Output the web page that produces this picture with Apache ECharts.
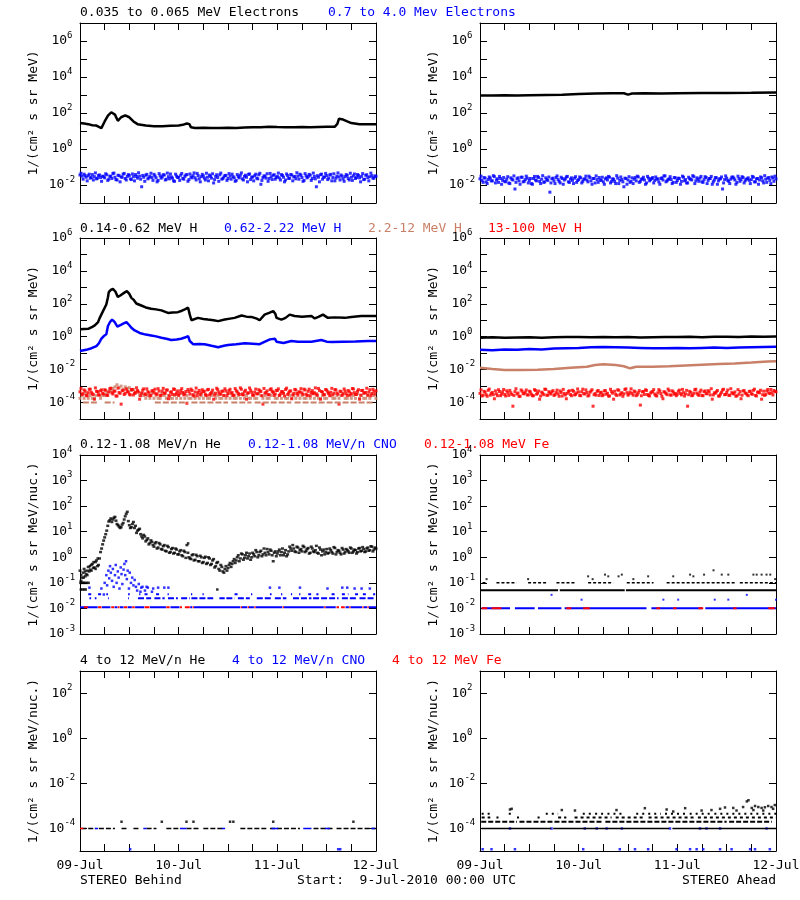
<!DOCTYPE html>
<html><head><meta charset="utf-8">
<script src="https://cdn.jsdelivr.net/npm/echarts@6/dist/echarts.min.js"></script>
<style>html,body{margin:0;padding:0;background:#fff}#c{width:800px;height:900px}</style>
</head><body><div id="c"></div>
<script>
// ---------- axis labels ----------
const dayHours = [0, 24, 48, 72];
const dayLabels = ['09-Jul', '10-Jul', '11-Jul', '12-Jul'];
const yTicks1 = [1e-3,1e-2,1e-1,1,1e1,1e2,1e3,1e4,1e5,1e6,1e7];
const yLabels1 = [1e-2,1,1e2,1e4,1e6];
const yTicks2 = [1e-5,1e-4,1e-3,1e-2,1e-1,1,1e1,1e2,1e3,1e4,1e5,1e6];
const yLabels2 = [1e-4,1e-2,1,1e2,1e4,1e6];
const yTicks3 = [1e-3,1e-2,1e-1,1,1e1,1e2,1e3,1e4];
const yLabels3 = [1e-3,1e-2,1e-1,1,1e1,1e2,1e3,1e4];
const yTicks4 = [1e-4,1e-2,1,1e2];
const yLabels4 = [1e-4,1e-2,1,1e2];

// ---------- Row 1: electrons (hours since 09-Jul 00:00) ----------
const eLowB = [[0,27.5],[1,26],[2,24],[3,21],[4,20],[5.2,14.5],[6,34],[6.8,71],[7.6,110],[8.5,81],[9.2,37],[10,58],[11,74],[12,58],[13,34],[14,24],[16,20],[18,18.6],[20,18.6],[22,19.5],[24,20.4],[25,22],[26,26],[26.6,24],[27,16],[28,14.5],[30,15],[32,14.8],[34,14.5],[36,15],[38,14.8],[40,15.5],[42,16],[44,16],[46,17.4],[48,16.6],[50,16.2],[52,16],[54,16.6],[56,16.2],[58,16.6],[60,17],[62,17.4],[62.6,25],[63,48],[64,43],[65,34],[66,27.5],[68,24],[70,24],[72,24]];
// half-hour samples (on the hour / half hour)
const eHighB = [
0.036,0.031,0.040,0.027,0.033,0.024,0.038,0.029,0.022,0.034,0.026,0.031,
0.025,0.037,0.021,0.030,0.043,0.027,0.019,0.033,0.028,0.040,0.023,0.030,
0.034,0.020,0.029,0.038,0.024,0.031,0.008,0.027,0.035,0.022,0.030,0.026,
0.039,0.025,0.018,0.032,0.028,0.036,0.021,0.029,0.041,0.024,0.016,0.031,
0.027,0.035,0.023,0.030,0.038,0.020,0.028,0.033,0.025,0.044,0.022,0.029,
0.032,0.019,0.027,0.036,0.024,0.013,0.030,0.026,0.037,0.021,0.028,0.034,
0.023,0.031,0.040,0.025,0.018,0.029,0.035,0.022,0.030,0.027,0.039,0.020,
0.028,0.033,0.024,0.037,0.011,0.026,0.031,0.042,0.023,0.029,0.035,0.021,
0.030,0.025,0.038,0.027,0.019,0.033,0.024,0.036,0.028,0.022,0.031,0.040,
0.026,0.018,0.032,0.029,0.035,0.023,0.030,0.008,0.027,0.037,0.021,0.028,
0.033,0.024,0.039,0.026,0.017,0.031,0.028,0.036,0.022,0.029,0.034,0.019,
0.027,0.032,0.023,0.038,0.025,0.030,0.020,0.035,0.026,0.029,0.033,0.024,
0.030];
// samples at quarter past / quarter to
const eHighB2 = [
0.045,0.021,0.033,0.017,0.040,0.026,0.019,0.047,0.024,0.036,0.016,0.029,
0.042,0.018,0.031,0.023,0.046,0.020,0.035,0.015,0.027,0.044,0.019,0.038,
0.022,0.041,0.017,0.030,0.048,0.021,0.034,0.016,0.039,0.025,0.045,0.018,
0.032,0.015,0.043,0.024,0.037,0.019,0.046,0.022,0.028,0.017,0.040,0.026,
0.018,0.044,0.021,0.036,0.016,0.041,0.025,0.047,0.019,0.033,0.015,0.039,
0.024,0.045,0.017,0.030,0.042,0.020,0.037,0.016,0.046,0.023,0.034,0.018,
0.043,0.021,0.029,0.016,0.038,0.025,0.047,0.019,0.035,0.015,0.041,0.027,
0.017,0.040,0.022,0.045,0.018,0.032,0.024,0.016,0.044,0.020,0.037,0.026,
0.046,0.019,0.034,0.015,0.041,0.023,0.038,0.017,0.030,0.048,0.021,0.035,
0.016,0.043,0.025,0.039,0.018,0.046,0.022,0.033,0.015,0.040,0.027,0.044,
0.020,0.036,0.017,0.042,0.024,0.047,0.019,0.031,0.016,0.038,0.023,0.045,
0.018,0.041,0.026,0.034,0.015,0.043,0.021,0.037,0.017,0.046,0.024,0.032];
const eLowA = [[0,950],[3,930],[6,960],[9,940],[12,970],[16,1000],[20,1020],[24,1150],[28,1200],[32,1250],[35,1250],[36,1050],[37,1200],[40,1250],[44,1230],[48,1260],[54,1280],[60,1300],[66,1330],[72,1380]];
const eHighA = [
0.022,0.018,0.026,0.015,0.020,0.024,0.017,0.029,0.019,0.014,0.023,0.018,
0.016,0.021,0.013,0.025,0.019,0.006,0.022,0.017,0.027,0.015,0.020,0.024,
0.018,0.012,0.023,0.019,0.030,0.016,0.021,0.014,0.025,0.018,0.004,0.022,
0.017,0.026,0.020,0.013,0.023,0.019,0.028,0.015,0.021,0.018,0.024,0.014,
0.020,0.025,0.016,0.022,0.019,0.031,0.017,0.023,0.013,0.020,0.026,0.018,
0.015,0.022,0.019,0.027,0.016,0.021,0.012,0.024,0.018,0.020,0.008,0.023,
0.019,0.014,0.025,0.021,0.017,0.028,0.016,0.022,0.019,0.013,0.024,0.020,
0.026,0.018,0.021,0.015,0.023,0.019,0.032,0.017,0.022,0.020,0.014,0.025,
0.018,0.023,0.016,0.027,0.020,0.013,0.022,0.019,0.029,0.017,0.021,0.024,
0.015,0.020,0.026,0.018,0.023,0.011,0.019,0.025,0.017,0.022,0.006,0.020,
0.024,0.016,0.021,0.028,0.019,0.014,0.023,0.020,0.026,0.017,0.022,0.018,
0.020,0.027,0.015,0.023,0.019,0.025,0.013,0.021,0.024,0.018,0.028,0.016,
0.022];
const eHighA2 = [
0.031,0.014,0.024,0.012,0.028,0.017,0.033,0.013,0.022,0.030,0.011,0.026,
0.015,0.029,0.012,0.021,0.032,0.014,0.025,0.011,0.027,0.016,0.031,0.013,
0.023,0.011,0.030,0.017,0.026,0.012,0.033,0.015,0.020,0.028,0.013,0.024,
0.012,0.032,0.016,0.027,0.011,0.022,0.030,0.014,0.025,0.012,0.029,0.018,
0.028,0.013,0.021,0.031,0.015,0.026,0.011,0.023,0.032,0.014,0.019,0.027,
0.011,0.025,0.030,0.013,0.022,0.016,0.033,0.012,0.028,0.015,0.024,0.011,
0.029,0.016,0.012,0.026,0.031,0.014,0.021,0.027,0.011,0.030,0.017,0.023,
0.013,0.028,0.022,0.011,0.025,0.032,0.015,0.020,0.029,0.012,0.026,0.014,
0.024,0.011,0.031,0.017,0.013,0.027,0.021,0.033,0.012,0.025,0.016,0.030,
0.014,0.029,0.012,0.023,0.030,0.015,0.026,0.011,0.022,0.028,0.013,0.032,
0.018,0.012,0.027,0.024,0.011,0.031,0.016,0.029,0.013,0.021,0.025,0.012,
0.030,0.015,0.022,0.011,0.028,0.017,0.033,0.014,0.026,0.012,0.024,0.031];

// ---------- Row 2: protons ----------
const h1B = [[0,2.8],[1,2.9],[2,3.0],[3,4.0],[3.6,4.9],[4.4,7.8],[4.8,14],[5.6,36],[6.4,91],[6.8,250],[7.0,510],[7.5,700],[8.0,810],[8.6,560],[9.2,260],[9.8,320],[10.5,430],[11.4,590],[12.0,400],[12.5,230],[13.0,180],[13.7,105],[14.9,79],[16,60],[17.3,50],[18.5,46],[19.8,40],[21.4,28],[22.5,30],[23.8,31],[24.8,38],[25.5,46],[26.3,58],[26.7,22],[27.1,10],[28.7,14],[30,12],[31.1,11],[32.5,10],[33.6,8.9],[35.2,11],[36.5,12.6],[37.6,14],[39.3,19.5],[40.5,16.6],[41.7,16],[43.0,12.6],[43.7,10],[44.9,22],[46,28],[47.0,36],[47.5,25],[47.8,14],[49.0,11],[50,14],[51.0,22],[52.2,18],[54,16.6],[56.3,18],[57.1,13],[58,16],[59.1,22],[60.3,14],[62,15],[64.4,14],[66,16],[68.4,18],[70,18],[72,18]];
const h2B = [[0,0.135],[1.5,0.16],[2.8,0.2],[4.0,0.27],[4.6,0.4],[5.2,0.76],[5.8,1.1],[6.4,1.4],[6.8,4.5],[7.3,7.9],[7.8,11],[8.4,7.9],[9.1,4.1],[9.8,5],[10.5,6.3],[11.3,7.8],[12.0,5],[12.5,3.5],[13.3,2.4],[14.5,1.7],[16,1.35],[17.3,1.2],[18.5,1.05],[19.8,0.87],[21,0.76],[22.2,0.63],[23.5,0.68],[24.6,0.76],[25.5,0.89],[26.3,1.1],[26.7,0.55],[27.5,0.35],[29,0.36],[30.3,0.35],[32,0.28],[33.6,0.23],[35,0.28],[36,0.31],[38,0.35],[40.1,0.4],[42,0.38],[43.7,0.35],[45,0.5],[46.2,0.69],[47.4,0.76],[47.8,0.5],[48.2,0.44],[49.5,0.42],[51.4,0.55],[53,0.5],[56.3,0.5],[58.7,0.63],[60,0.5],[61.2,0.48],[64,0.5],[67,0.52],[70,0.55],[72,0.55]];
const h3B = [
1.8e-4,2.7e-4,1.8e-4,3.6e-4,1.8e-4,2.7e-4,1.8e-4,1.8e-4,2.7e-4,4.5e-4,1.8e-4,2.7e-4,
2.7e-4,3.6e-4,4.5e-4,5.4e-4,7.2e-4,9.0e-4,1.2e-3,8.1e-4,1.0e-3,6.3e-4,9.0e-4,7.2e-4,
8.1e-4,5.4e-4,6.3e-4,3.6e-4,4.5e-4,2.7e-4,3.6e-4,2.7e-4,1.8e-4,2.7e-4,1.8e-4,3.6e-4,
1.8e-4,2.7e-4,1.8e-4,1.8e-4,3.6e-4,2.7e-4,1.8e-4,2.7e-4,1.8e-4,1.8e-4,2.7e-4,1.8e-4,
2.7e-4,1.8e-4,3.6e-4,1.8e-4,2.7e-4,1.8e-4,1.8e-4,2.7e-4,1.8e-4,3.6e-4,1.8e-4,2.7e-4,
1.8e-4,2.7e-4,1.8e-4,1.8e-4,2.7e-4,3.6e-4,1.8e-4,2.7e-4,1.8e-4,1.8e-4,2.7e-4,1.8e-4,
3.6e-4,1.8e-4,2.7e-4,1.8e-4,1.8e-4,2.7e-4,1.8e-4,3.6e-4,1.8e-4,2.7e-4,1.8e-4,1.8e-4,
2.7e-4,1.8e-4,1.8e-4,3.6e-4,2.7e-4,1.8e-4,2.7e-4,1.8e-4,1.8e-4,2.7e-4,4.5e-4,1.8e-4,
1.8e-4,2.7e-4,1.8e-4,3.6e-4,1.8e-4,1.8e-4,2.7e-4,1.8e-4,2.7e-4,1.8e-4,3.6e-4,1.8e-4,
2.7e-4,1.8e-4,1.8e-4,2.7e-4,1.8e-4,3.6e-4,1.8e-4,2.7e-4,1.8e-4,1.8e-4,2.7e-4,1.8e-4,
1.8e-4,3.6e-4,2.7e-4,1.8e-4,1.8e-4,2.7e-4,1.8e-4,2.7e-4,3.6e-4,1.8e-4,1.8e-4,2.7e-4,
1.8e-4,2.7e-4,1.8e-4,3.6e-4,1.8e-4,2.7e-4,1.8e-4,1.8e-4,2.7e-4,1.8e-4,3.6e-4,2.7e-4,
1.8e-4];
const h3BFloorSegs = [[0.7,4.4],[6,8.4],[18.2,26.3],[27.1,36],[36.8,41.7],[42.5,51.4],[52.2,71.7]];
const h3BFloor = 1e-4;
const h4B = [
4.5e-4,3.1e-4,5.8e-4,2.7e-4,4.0e-4,6.5e-4,3.4e-4,1.6e-4,4.8e-4,3.0e-4,5.2e-4,3.7e-4,
6.0e-4,2.8e-4,4.4e-4,7.5e-4,3.3e-4,5.0e-4,2.5e-4,4.1e-4,8.0e-5,5.6e-4,3.6e-4,4.7e-4,
3.2e-4,6.2e-4,2.9e-4,4.3e-4,5.4e-4,1.6e-4,3.8e-4,6.8e-4,3.0e-4,4.6e-4,2.6e-4,5.1e-4,
4.0e-4,3.4e-4,7.0e-4,2.7e-4,4.9e-4,3.6e-4,5.7e-4,1.7e-4,4.2e-4,3.1e-4,6.3e-4,3.8e-4,
2.8e-4,5.3e-4,4.1e-4,3.3e-4,9.0e-5,4.7e-4,6.6e-4,3.0e-4,4.4e-4,2.6e-4,5.5e-4,3.9e-4,
4.6e-4,3.2e-4,5.9e-4,2.9e-4,4.2e-4,1.6e-4,3.7e-4,6.1e-4,3.3e-4,4.8e-4,2.7e-4,5.0e-4,
3.5e-4,6.4e-4,4.0e-4,2.8e-4,5.2e-4,3.6e-4,7.8e-4,3.1e-4,4.5e-4,1.6e-4,3.9e-4,5.6e-4,
2.9e-4,4.3e-4,3.4e-4,6.0e-4,4.7e-4,8.0e-5,3.8e-4,5.1e-4,3.0e-4,6.9e-4,4.1e-4,3.3e-4,
5.4e-4,2.7e-4,4.6e-4,3.7e-4,6.2e-4,3.1e-4,4.9e-4,1.7e-4,3.6e-4,5.8e-4,2.8e-4,4.4e-4,
3.9e-4,6.5e-4,3.2e-4,4.8e-4,2.6e-4,5.3e-4,4.0e-4,3.4e-4,7.2e-4,1.6e-4,4.3e-4,3.0e-4,
5.7e-4,3.5e-4,4.2e-4,2.9e-4,6.1e-4,3.8e-4,8.0e-5,4.6e-4,3.3e-4,5.0e-4,2.7e-4,4.5e-4,
3.6e-4,6.7e-4,3.1e-4,4.9e-4,1.6e-4,5.4e-4,3.7e-4,4.1e-4,2.8e-4,6.0e-4,3.4e-4,4.8e-4,
5.2e-4];
const h4B2 = [
7.2e-4,3.5e-4,5.0e-4,2.6e-4,6.4e-4,4.2e-4,3.0e-4,7.8e-4,4.6e-4,2.8e-4,5.9e-4,3.3e-4,
5.5e-4,2.7e-4,6.9e-4,3.9e-4,4.8e-4,2.5e-4,7.5e-4,3.6e-4,5.2e-4,3.1e-4,6.6e-4,4.4e-4,
2.9e-4,6.1e-4,3.7e-4,7.9e-4,4.3e-4,2.6e-4,5.6e-4,3.4e-4,6.8e-4,4.0e-4,2.7e-4,5.3e-4,
6.5e-4,3.2e-4,4.9e-4,2.8e-4,7.3e-4,3.8e-4,5.8e-4,2.6e-4,4.5e-4,6.7e-4,3.1e-4,5.1e-4,
3.6e-4,7.0e-4,2.9e-4,4.7e-4,6.2e-4,3.3e-4,5.4e-4,2.5e-4,7.6e-4,4.1e-4,3.0e-4,6.0e-4,
4.9e-4,2.7e-4,6.3e-4,3.5e-4,5.7e-4,2.8e-4,7.4e-4,4.3e-4,3.2e-4,5.0e-4,6.9e-4,2.6e-4,
5.3e-4,3.8e-4,2.7e-4,7.1e-4,4.5e-4,3.1e-4,6.4e-4,2.9e-4,5.6e-4,3.7e-4,7.7e-4,4.2e-4,
2.8e-4,6.6e-4,3.4e-4,5.2e-4,2.6e-4,7.2e-4,4.0e-4,3.0e-4,6.1e-4,4.8e-4,2.7e-4,5.5e-4,
6.8e-4,3.3e-4,4.6e-4,2.5e-4,7.5e-4,3.9e-4,5.1e-4,2.9e-4,6.3e-4,3.6e-4,4.4e-4,7.0e-4,
3.1e-4,5.8e-4,2.7e-4,6.5e-4,4.1e-4,3.4e-4,7.8e-4,2.8e-4,5.3e-4,4.7e-4,3.0e-4,6.2e-4,
4.5e-4,2.6e-4,7.3e-4,3.7e-4,5.9e-4,3.2e-4,4.9e-4,2.7e-4,6.7e-4,3.5e-4,5.4e-4,2.9e-4,
7.1e-4,4.0e-4,3.1e-4,6.0e-4,2.8e-4,5.5e-4,3.8e-4,7.4e-4,4.3e-4,2.6e-4,6.4e-4,3.3e-4];
const h1A = [[0,0.88],[3,0.92],[6,0.86],[9,0.9],[12,0.93],[15,0.88],[18,0.92],[21,0.95],[24,0.97],[27,0.93],[30,0.96],[33,0.92],[36,0.95],[39,0.9],[42,0.94],[45,0.97],[48,0.95],[51,0.98],[54,0.94],[57,0.99],[60,1.0],[63,0.97],[66,1.02],[69,1.0],[72,1.05]];
const h2A = [[0,0.16],[3,0.15],[6,0.17],[9,0.16],[12,0.18],[15,0.17],[18,0.19],[21,0.2],[24,0.21],[27,0.23],[30,0.24],[33,0.23],[36,0.22],[39,0.21],[42,0.2],[45,0.2],[48,0.21],[51,0.2],[54,0.21],[57,0.22],[60,0.21],[63,0.22],[66,0.23],[69,0.24],[72,0.25]];
const h3A = [[0,0.013],[3,0.011],[6,0.0095],[10,0.0095],[14,0.010],[18,0.011],[22,0.013],[26,0.015],[28,0.019],[30,0.021],[33,0.019],[35,0.016],[36.5,0.012],[38,0.015],[42,0.015],[46,0.016],[50,0.018],[54,0.020],[58,0.022],[62,0.024],[66,0.027],[70,0.031],[72,0.032]];
const h4A = [
3.6e-4,2.5e-4,4.8e-4,3.0e-4,5.5e-4,2.8e-4,4.1e-4,1.7e-4,3.4e-4,6.0e-4,2.6e-4,4.4e-4,
3.1e-4,5.2e-4,2.7e-4,3.9e-4,6.0e-5,4.6e-4,3.3e-4,2.4e-4,5.8e-4,3.5e-4,4.2e-4,2.9e-4,
4.9e-4,3.2e-4,2.6e-4,5.4e-4,3.7e-4,1.6e-4,4.3e-4,3.0e-4,6.3e-4,2.8e-4,3.8e-4,4.5e-4,
2.7e-4,4.0e-4,3.4e-4,5.1e-4,2.5e-4,3.6e-4,1.7e-4,4.7e-4,3.1e-4,5.6e-4,2.9e-4,3.9e-4,
4.4e-4,2.6e-4,6.5e-4,3.3e-4,4.1e-4,2.8e-4,5.0e-4,6.0e-5,3.5e-4,4.8e-4,2.7e-4,4.2e-4,
3.0e-4,5.3e-4,3.7e-4,2.5e-4,4.6e-4,1.6e-4,3.2e-4,5.9e-4,2.9e-4,4.0e-4,3.4e-4,6.8e-4,
2.8e-4,4.3e-4,3.6e-4,5.0e-4,2.6e-4,3.9e-4,7.0e-5,4.5e-4,3.1e-4,5.5e-4,2.7e-4,3.8e-4,
4.7e-4,3.3e-4,2.5e-4,6.1e-4,3.5e-4,1.7e-4,4.2e-4,3.0e-4,5.2e-4,2.8e-4,4.4e-4,3.6e-4,
3.2e-4,5.7e-4,2.9e-4,4.0e-4,3.4e-4,6.0e-5,4.8e-4,2.6e-4,3.7e-4,6.4e-4,3.1e-4,4.3e-4,
2.7e-4,4.6e-4,3.5e-4,5.3e-4,2.9e-4,1.6e-4,3.9e-4,4.5e-4,2.5e-4,3.3e-4,5.8e-4,3.0e-4,
4.1e-4,2.8e-4,6.9e-4,3.6e-4,4.4e-4,2.6e-4,3.2e-4,1.7e-4,5.1e-4,3.8e-4,2.9e-4,4.7e-4,
3.4e-4,5.5e-4,2.7e-4,4.2e-4,3.9e-4,1.6e-4,4.9e-4,3.1e-4,6.2e-4,3.5e-4,4.0e-4,5.4e-4,
4.6e-4];
const h4A2 = [
5.9e-4,2.8e-4,4.3e-4,2.4e-4,6.6e-4,3.6e-4,3.0e-4,5.1e-4,2.6e-4,4.7e-4,3.3e-4,6.2e-4,
2.5e-4,4.0e-4,5.5e-4,3.1e-4,2.7e-4,6.9e-4,3.8e-4,2.4e-4,4.9e-4,3.4e-4,5.8e-4,2.9e-4,
4.4e-4,2.6e-4,6.1e-4,3.2e-4,5.0e-4,2.5e-4,3.7e-4,6.5e-4,2.8e-4,4.6e-4,3.3e-4,5.3e-4,
3.0e-4,5.7e-4,2.4e-4,4.1e-4,6.3e-4,2.9e-4,3.6e-4,5.2e-4,2.6e-4,4.8e-4,3.1e-4,6.7e-4,
2.7e-4,4.5e-4,3.5e-4,5.9e-4,2.5e-4,4.2e-4,6.0e-4,3.0e-4,2.8e-4,5.4e-4,3.9e-4,2.6e-4,
5.1e-4,3.2e-4,2.5e-4,6.4e-4,3.7e-4,4.9e-4,2.7e-4,5.6e-4,3.4e-4,2.4e-4,6.2e-4,4.0e-4,
3.3e-4,6.8e-4,2.8e-4,4.4e-4,3.0e-4,5.3e-4,2.6e-4,4.7e-4,5.9e-4,3.1e-4,2.5e-4,4.3e-4,
6.1e-4,2.7e-4,3.9e-4,5.0e-4,2.4e-4,4.6e-4,3.5e-4,6.6e-4,2.9e-4,5.2e-4,3.2e-4,2.6e-4,
4.8e-4,3.6e-4,6.3e-4,2.5e-4,5.5e-4,3.0e-4,4.1e-4,2.8e-4,6.0e-4,3.8e-4,2.7e-4,5.7e-4,
2.6e-4,5.1e-4,3.4e-4,4.5e-4,6.9e-4,2.9e-4,3.7e-4,5.4e-4,2.5e-4,4.2e-4,6.4e-4,3.1e-4,
5.8e-4,2.7e-4,4.0e-4,3.3e-4,2.4e-4,6.1e-4,4.7e-4,2.8e-4,5.3e-4,3.5e-4,2.6e-4,4.9e-4,
3.2e-4,6.5e-4,2.5e-4,4.4e-4,5.6e-4,3.0e-4,2.7e-4,5.0e-4,3.9e-4,6.2e-4,2.9e-4,4.6e-4];

// ---------- Row 3: 0.12-1.08 MeV/n ions ----------
const heLoB = [
0.30,0.16,0.35,0.22,0.42,0.33,0.55,0.40,0.75,0.50,1.6,3.2,
6.0,11,25,33,30,38,20,16,15,22,40,60,
18,15,24,17,11,13,6.5,7.5,4.2,5.5,3.6,4.0,
2.6,3.9,2.4,3.2,2.0,3.0,1.7,2.5,1.6,2.3,1.5,2.0,
1.3,1.9,1.1,1.6,3.0,1.0,0.85,1.3,0.80,1.1,0.70,1.0,
0.65,1.05,0.60,0.90,0.55,0.85,0.45,0.65,0.30,0.42,0.25,0.45,
0.38,0.60,0.55,0.85,0.75,1.2,0.90,1.3,0.95,1.5,1.1,0.8,
1.5,1.1,1.6,1.2,1.8,1.3,1.5,2.1,1.3,1.8,0.7,1.7,
1.4,2.0,1.6,1.2,1.9,1.3,2.6,1.8,2.2,1.6,2.4,1.9,
1.7,2.5,1.8,2.3,1.5,2.2,1.6,2.8,1.4,2.0,1.7,1.3,
2.1,1.5,1.9,1.4,2.3,1.6,1.8,1.3,2.0,1.6,1.9,1.5,
2.2,1.7,1.9,1.6,2.3,1.8,2.1,1.7,2.4,1.9,2.6,2.0,
2.2];
const heLoB2 = [
0.12,0.25,0.18,0.30,0.28,0.50,0.38,0.65,0.45,0.90,2.2,4.5,
8.0,17,28,24,35,27,18,14,19,30,50,26,
14,20,14,9.0,12,8.0,5.5,6.5,4.8,3.2,4.6,3.0,
3.5,2.2,3.6,2.1,2.7,1.8,2.8,1.5,2.1,1.4,2.2,1.3,
1.7,1.2,1.8,0.95,1.5,0.90,1.2,0.75,1.25,0.70,1.15,0.60,
0.95,0.55,1.0,0.50,0.75,0.40,0.60,0.35,0.50,0.28,0.35,0.30,
0.50,0.42,0.70,0.60,1.0,0.70,1.4,0.80,1.2,0.90,1.4,1.0,
1.3,1.9,1.0,1.6,1.1,2.2,1.2,1.6,2.0,1.2,1.5,1.1,
1.7,1.2,2.2,1.5,1.1,1.7,2.2,3.0,1.7,2.6,1.5,2.1,
2.8,1.6,2.1,1.4,2.6,1.7,1.9,1.5,2.4,1.2,2.0,1.6,
1.4,2.2,1.6,2.5,1.3,1.9,1.5,2.3,1.4,2.1,1.7,2.4,
1.5,2.0,1.4,2.2,1.7,2.5,1.6,2.2,1.8,2.7,1.7,2.4];
const heLoBExtra = [[0.1,0.1],[0.4,0.1],[0.7,0.1],[1.0,0.1],[1.3,0.1],[1.7,0.1],[2.1,0.1],[0.2,0.055],[0.6,0.055],[1.0,0.055],[1.4,0.055],[0.3,0.2],[0.9,0.16],[1.2,0.28],[1.8,0.2],[2.4,0.45],[2.8,0.3],[3.3,0.65],[3.8,0.35],[4.3,0.9],[33.4,0.055],[26.3,3.5]];
const cnoLoB = [[2.3,0.065],[5.2,0.06],[5.8,0.035],[6.0,0.1],[6.4,0.2],[6.6,0.08],[6.9,0.3],[7.1,0.15],[7.3,0.45],[7.5,0.25],[7.8,0.12],[8.0,0.35],[8.2,0.07],[8.5,0.2],[8.7,0.5],[8.9,0.1],[9.2,0.28],[9.4,0.16],[9.6,0.06],[9.9,0.4],[10.1,0.22],[10.3,0.09],[10.6,0.33],[10.8,0.55],[11.0,0.2],[11.2,0.7],[11.4,0.14],[11.6,0.3],[11.9,0.06],[12.1,0.25],[12.4,0.1],[12.7,0.16],[13.0,0.08],[13.3,0.13],[13.6,0.07],[13.9,0.05],[14.3,0.09],[14.7,0.045],[14.9,0.065],[15.2,0.07],[15.8,0.05],[16.2,0.07],[16.5,0.065],[17.5,0.045],[17.8,0.06],[19,0.065],[20.5,0.065],[21.5,0.065],[46.2,0.065],[48.5,0.065],[53.5,0.065],[60.2,0.06],[63.8,0.065],[65.0,0.065],[66.8,0.06],[68.5,0.06],[70.5,0.06]];
const cnoLoBLevels = [0.011, 0.025, 0.036];
const cnoLoBSegs1 = [[0,4.3],[5.3,7.4],[8.4,9.1],[9.7,10.6],[11.6,12.6],[13.4,15.6],[17,20.9],[22,24.2],[26.8,27.3],[27.7,39],[39.4,40.7],[41.1,42.3],[42.7,49.2],[49.6,59.3],[59.7,62.2],[64.6,65.4],[65.8,68.6],[69,69.8],[70.2,72]];
const cnoLoBSegs2 = [[2.3,2.7],[3.6,4.0],[6.8,7.0],[11.7,11.9],[14.1,15.7],[16.1,17.3],[18.1,20.6],[21.4,23.8],[24.6,26.7],[27.1,32.4],[33.9,35.2],[35.6,37.6],[38.4,41.3],[43,46.6],[47.4,50.2],[51.8,56.3],[56.7,62.9],[63.7,67.5],[68,71.8]];
const cnoLoBSegs3 = [[2.0,3.2],[4.4,5.2],[6.4,6.8],[11.7,12.1],[14.4,14.7],[15.7,16.5],[18.5,19.3],[21.3,21.6],[27,27.3],[29.8,30.1],[37.6,38.4],[41.6,41.9],[46.2,46.6],[48.9,49.2],[51.3,51.6],[53.3,53.6],[55.5,56.3],[57.5,58],[61.2,62],[63.7,65.3],[66.9,67.7],[68.8,70],[71.3,71.8]];
const feLoBLevel = 0.011;
const feLoBSegs = [[1.0,1.9],[4.4,5.2],[7.6,8.3],[9.2,9.6],[10.7,11.5],[12.7,13.3],[15.7,16.9],[21,21.8],[24.3,24.8],[25.5,26.7],[27.4,27.7],[39.1,39.4],[40.8,41.1],[42.4,42.7],[49.3,49.6],[59.4,59.7],[62.4,63],[63.5,64.4],[65.5,65.8],[68.7,69],[69.9,70.2]];

const heLoALevels = [0.051, 0.1];
const heLoASegs1 = [[0,19],[19.4,35.2],[35.5,72]];
const heLoASegs2 = [[0.6,1.5],[4,8.9],[11.7,16.2],[18.6,23.4],[26.3,32.4],[35.7,42.2],[45.4,62.4],[63.2,72]];
const heLoAUp = [[1.6,0.14],[11.7,0.14],[26.3,0.18],[27.4,0.14],[30.4,0.21],[31.2,0.18],[33.7,0.18],[34.5,0.21],[37.3,0.14],[40.9,0.18],[47,0.18],[51.1,0.21],[51.9,0.18],[54.5,0.21],[56.8,0.31],[58.8,0.21],[60.4,0.21],[66.5,0.21],[67.3,0.21],[68.5,0.21],[69.7,0.21],[70.6,0.21],[71.8,0.14]];
const cnoLoALevel = 0.0102;
const cnoLoASegs = [[0.4,7.3],[8.5,13.3],[14.1,19.8],[20.6,40.5],[41.7,54],[54.8,72]];
const cnoLoAUp = [[17.4,0.034],[24.7,0.022],[44.6,0.022],[48.2,0.022],[57.1,0.022],[60.4,0.022],[64.9,0.034],[72,0.022]];
const feLoASegs = [[0.4,1.75],[2.8,5.2],[21,22.2],[25.1,26.7],[42.9,43.8],[47,47.8],[53.1,54.3],[61.6,62.4],[70.1,71.7]];

// ---------- Row 4: 4-12 MeV/n ions ----------
const hiFloor = 1e-4;
const heHiBSegs = [[0.3,3.8],[4.6,8.5],[10.1,11.3],[13,14.6],[16.2,18.6],[21,24.3],[25.9,29.2],[30,34.9],[39,45.4],[46.2,53.5],[56.8,61.6],[62.4,72]];
const heHiBUp = [[10.1,2e-4],[19.9,2e-4],[25.9,2e-4],[27.6,2e-4],[36.5,2e-4],[37.3,2e-4],[47,2e-4],[66.5,2e-4]];
const cnoHiBSegs = [[3.6,4.4],[15.4,16.2],[24.3,25.9],[34.5,35.3],[46.6,48.2],[54.3,56.3],[59.6,60.8],[70.9,71.7]];
const cnoHiBLow = [[12.2,1.2e-5],[62.8,1.2e-5],[63.3,1.2e-5]];
const feHiBSegs = [[0,0.8]];

const heHiALevels = [1e-4, 2e-4, 3.1e-4, 4.5e-4];
const heHiASegs1 = [[0.4,17.3],[17.8,46],[46.8,72]];
const heHiASegs2 = [[0.3,9],[9.6,30],[30.5,60],[60.6,71]];
const heHiASegs3 = [[0.4,2.5],[4,4.5],[9,9.5],[14,14.5],[19,21],[23,32],[33,40],[41,52],[53,72]];
const heHiASegs4 = [[0.4,2.8],[7,7.5],[16,19],[25,27],[28,30],[31,35],[38,44],[45,50],[51,56],[57,72]];
const heHiAUp = [[7.3,7e-4],[7.7,7.5e-4],[19.9,6.6e-4],[23.1,6.3e-4],[33.2,6.6e-4],[40.1,8e-4],[45.4,7e-4],[47,5.7e-4],[49.9,8e-4],[53.9,6.3e-4],[56.3,6.6e-4],[58.4,7.5e-4],[59.6,8.6e-4],[61.6,8.2e-4],[62.4,6.3e-4],[64.0,9e-4],[64.9,1.6e-3],[65.3,1.8e-3],[66.1,8.2e-4],[66.5,6.6e-4],[66.9,1e-3],[67.7,9e-4],[68.5,8.2e-4],[68.9,6.3e-4],[69.3,8.8e-4],[70.1,1e-3],[70.9,9e-4],[71.3,7.5e-4],[71.7,1.1e-3]];
const cnoHiA = [[7.3,1e-4],[17.4,1e-4],[25.5,1e-4],[28.4,1e-4],[30.8,1e-4],[34.5,1e-4],[46.2,1e-4],[53.5,1e-4],[55.1,1e-4],[58.4,1e-4],[69.7,1e-4]];
const cnoHiALow = [[0.65,1.2e-5],[2.8,1.2e-5],[8.5,1.2e-5],[25.1,1.2e-5],[34,1.2e-5],[37.7,1.2e-5],[40.9,1.2e-5],[47.8,1.2e-5],[51.1,1.2e-5],[52.7,1.2e-5],[54.3,1.2e-5],[58.4,1.2e-5],[61.2,1.2e-5],[65.7,1.2e-5],[66.9,1.2e-5],[70.5,1.2e-5]];

// ---------- build ----------
const FONT = '"DejaVu Sans Mono", "Liberation Mono", monospace';
const BLACK = '#000000', BLUE = '#0000ff', RED = '#ff0000', BROWN = '#c98068';
const ROWS = [
  {top:23, height:180, min:1e-3, max:1e7, ticks:yTicks1, labels:yLabels1, name:'1/(cm² s sr MeV)'},
  {top:238, height:181, min:1e-5, max:1e6, ticks:yTicks2, labels:yLabels2, name:'1/(cm² s sr MeV)'},
  {top:455, height:179, min:1e-3, max:1e4, ticks:yTicks3, labels:yLabels3, name:'1/(cm² s sr MeV/nuc.)'},
  {top:671, height:180, min:1e-5, max:1e3, ticks:yTicks4, labels:yLabels4, name:'1/(cm² s sr MeV/nuc.)'}
];
const COLS = [80, 480];
const grids = [], xAxes = [], yAxes = [];
ROWS.forEach((r, ri) => {
  COLS.forEach((left, ci) => {
    const g = grids.length;
    grids.push({left: left, top: r.top, width: 296, height: r.height, containLabel: false, outerBoundsMode: 'none'});
    ['bottom', 'top'].forEach(pos => {
      xAxes.push({
        type: 'value', gridIndex: g, position: pos, min: 0, max: 72, interval: 6,
        axisLine: {show: true, onZero: false, lineStyle: {color: BLACK, width: 1}},
        axisTick: {show: true, inside: true, length: 7, lineStyle: {color: BLACK, width: 1}},
        axisLabel: {show: pos === 'bottom' && ri === 3, customValues: dayHours,
          formatter: v => dayLabels[dayHours.indexOf(v)], margin: 8, color: BLACK, fontFamily: FONT, fontSize: 13},
        splitLine: {show: false}
      });
    });
    ['left', 'right'].forEach(pos => {
      yAxes.push({
        type: 'log', logBase: 10, gridIndex: g, position: pos, min: r.min, max: r.max,
        name: pos === 'left' ? r.name : '', nameLocation: 'middle', nameGap: 40, nameRotate: 90,
        nameTextStyle: {color: BLACK, fontFamily: FONT, fontSize: 13},
        axisLine: {show: true, onZero: false, lineStyle: {color: BLACK, width: 1}},
        axisTick: {show: true, inside: true, length: 7, customValues: r.ticks, lineStyle: {color: BLACK, width: 1}},
        axisLabel: {show: pos === 'left', customValues: r.labels, align: 'center', margin: 18,
          formatter: v => '{b|10}{s|' + Math.round(Math.log10(v)) + '}',
          rich: {b: {fontFamily: FONT, fontSize: 13, color: BLACK},
                 s: {fontFamily: FONT, fontSize: 9, color: BLACK, padding: [0, 0, 11, 0]}}},
        splitLine: {show: false}, minorTick: {show: false}
      });
    });
  });
});

const series = [];
function half(vals) { return vals.map((v, i) => [i * 0.5, v]); }
function quarter(vals) { return vals.map((v, i) => [0.25 + i * 0.5, v]); }
function segs(list, v) { const d = []; list.forEach(s => { d.push([s[0], v], [s[1], v], [s[1], '-']); }); return d; }
function line(g, data, color, width, dash) {
  series.push({type: 'line', xAxisIndex: 2 * g, yAxisIndex: 2 * g, data: data, symbol: 'none', showSymbol: false,
    connectNulls: false, lineStyle: {color: color, width: width, type: dash || 'solid'}, itemStyle: {color: color},
    animation: false, silent: true});
}
function dots(g, data, color, size) {
  series.push({type: 'scatter', xAxisIndex: 2 * g, yAxisIndex: 2 * g, data: data, symbol: 'rect',
    symbolSize: size || 2.5, itemStyle: {color: color}, animation: false, silent: true});
}
const BAND = [3, 3];
// panel 0: Behind electrons
dots(0, half(eHighB), BLUE, BAND);
dots(0, quarter(eHighB2), BLUE, BAND);
line(0, eLowB, BLACK, 2.5);
// panel 1: Ahead electrons
dots(1, half(eHighA), BLUE, BAND);
dots(1, quarter(eHighA2), BLUE, BAND);
line(1, eLowA, BLACK, 2.5);
// panel 2: Behind protons
line(2, segs(h3BFloorSegs, h3BFloor), BROWN, 2, [6, 2]);
dots(2, half(h3B), BROWN, BAND);
dots(2, half(h4B), RED, BAND);
dots(2, quarter(h4B2), RED, BAND);
line(2, h2B, BLUE, 2.5);
line(2, h1B, BLACK, 2.5);
// panel 3: Ahead protons
dots(3, half(h4A), RED, BAND);
dots(3, quarter(h4A2), RED, BAND);
line(3, h3A, BROWN, 2.5);
line(3, h2A, BLUE, 2.5);
line(3, h1A, BLACK, 2.5);
// panel 4: Behind low-energy ions
line(4, segs(cnoLoBSegs1, cnoLoBLevels[0]), BLUE, 2);
line(4, segs(cnoLoBSegs2, cnoLoBLevels[1]), BLUE, 2, [6, 2]);
line(4, segs(cnoLoBSegs3, cnoLoBLevels[2]), BLUE, 2, [3, 3]);
line(4, segs(feLoBSegs, feLoBLevel), RED, 2);
dots(4, cnoLoB, BLUE, 2.5);
dots(4, heLoBExtra, BLACK, 2.5);
dots(4, half(heLoB), BLACK, [3, 2.5]);
dots(4, quarter(heLoB2), BLACK, [3, 2.5]);
// panel 5: Ahead low-energy ions
line(5, segs(cnoLoASegs, cnoLoALevel), BLUE, 2);
line(5, segs(feLoASegs, cnoLoALevel), RED, 2);
dots(5, cnoLoAUp, BLUE, 2);
line(5, segs(heLoASegs1, heLoALevels[0]), BLACK, 2);
line(5, segs(heLoASegs2, heLoALevels[1]), BLACK, 1.5, [3, 2]);
dots(5, heLoAUp, BLACK, 2);
// panel 6: Behind high-energy ions
line(6, segs(heHiBSegs, hiFloor), BLACK, 1.5, [5, 2]);
dots(6, heHiBUp, BLACK, 2.5);
line(6, segs(cnoHiBSegs, hiFloor), BLUE, 1.5);
line(6, segs(feHiBSegs, hiFloor), RED, 1.5);
dots(6, cnoHiBLow, BLUE, 2.5);
// panel 7: Ahead high-energy ions
line(7, segs(heHiASegs1, heHiALevels[0]), BLACK, 1.5);
line(7, segs(heHiASegs2, heHiALevels[1]), BLACK, 2, [5, 2]);
line(7, segs(heHiASegs3, heHiALevels[2]), BLACK, 2, [3, 3]);
line(7, segs(heHiASegs4, heHiALevels[3]), BLACK, 2, [2, 4]);
dots(7, heHiAUp, BLACK, 2.5);
dots(7, cnoHiA, BLUE, 2.5);
dots(7, cnoHiALow, BLUE, 2.5);

// ---------- texts ----------
const texts = [
  [80, 13, '0.035 to 0.065 MeV Electrons', BLACK], [328, 13, '0.7 to 4.0 Mev Electrons', BLUE],
  [80, 229, '0.14-0.62 MeV H', BLACK], [224, 229, '0.62-2.22 MeV H', BLUE], [368, 229, '2.2-12 MeV H', BROWN], [488, 229, '13-100 MeV H', RED],
  [80, 445, '0.12-1.08 MeV/n He', BLACK], [248, 445, '0.12-1.08 MeV/n CNO', BLUE], [424, 445, '0.12-1.08 MeV Fe', RED],
  [80, 661, '4 to 12 MeV/n He', BLACK], [232, 661, '4 to 12 MeV/n CNO', BLUE], [392, 661, '4 to 12 MeV Fe', RED],
  [80, 881, 'STEREO Behind', BLACK], [297, 881, 'Start:  9-Jul-2010 00:00 UTC', BLACK], [776, 881, 'STEREO Ahead', BLACK, 'right']
];
const graphic = texts.map(t => ({type: 'text', x: t[0], y: t[1], silent: true,
  style: {text: t[2], fill: t[3], font: '13px ' + FONT, align: t[4] || 'left', verticalAlign: 'middle'}}));

const chart = echarts.init(document.getElementById('c'), null, {renderer: 'canvas'});
chart.setOption({animation: false, backgroundColor: '#fff', grid: grids, xAxis: xAxes, yAxis: yAxes, series: series, graphic: graphic});
</script></body></html>
